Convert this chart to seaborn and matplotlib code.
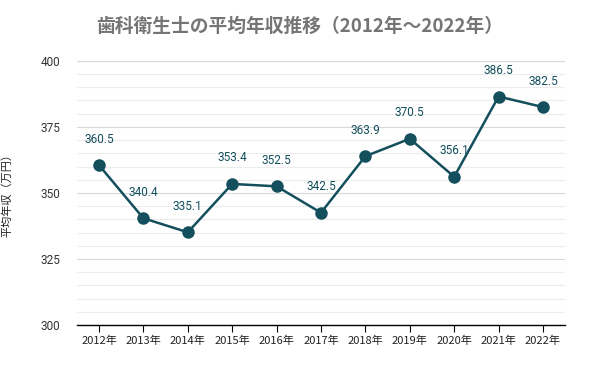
import numpy as np
import pandas as pd
import seaborn as sns
import matplotlib.pyplot as plt
from matplotlib.ticker import MultipleLocator

years = ["2012年", "2013年", "2014年", "2015年", "2016年", "2017年",
         "2018年", "2019年", "2020年", "2021年", "2022年"]
salary = [360.5, 340.4, 335.1, 353.4, 352.5, 342.5, 363.9, 370.5, 356.1, 386.5, 382.5]

sns.set_theme(style="white")
plt.rcParams['font.family'] = ['Noto Sans CJK JP', 'DejaVu Sans']

color = "#134f5c"
df = pd.DataFrame({"year": years, "salary": salary})

fig = plt.figure(figsize=(6, 3.71), dpi=100)
ax = fig.add_axes([0.128, 0.124, 0.814, 0.712])

sns.lineplot(data=df, x="year", y="salary", ax=ax, color=color, linewidth=1.8,
             marker="o", markersize=9, markeredgewidth=0, sort=False)

for i, v in enumerate(salary):
    ax.annotate(f"{v}", (i, v), xytext=(0, 14), textcoords="offset points",
                ha="center", va="bottom", fontsize=8.5, color=color,
                family=['Roboto', 'DejaVu Sans'])

ax.set_ylim(300, 400)
ax.set_xlim(-0.5, len(years) - 0.5)
ax.yaxis.set_major_locator(MultipleLocator(25))
ax.yaxis.set_minor_locator(MultipleLocator(5))
ax.grid(axis="y", which="major", color="#d9d9d9", linewidth=0.8)
ax.grid(axis="y", which="minor", color="#ececec", linewidth=0.8)
ax.set_axisbelow(True)

for s in ["top", "right", "left"]:
    ax.spines[s].set_visible(False)
ax.spines["bottom"].set_color("black")
ax.spines["bottom"].set_linewidth(1)

ax.tick_params(axis="x", which="major", bottom=True, length=5, width=0.8,
               color="black", labelsize=8, pad=3)
ax.tick_params(axis="y", which="both", left=False, labelsize=8.5, pad=6)
ax.tick_params(axis="y", which="minor", left=False)
for lab in ax.get_yticklabels():
    lab.set_family(['Roboto', 'DejaVu Sans'])
    lab.set_color("#333333")
for lab in ax.get_xticklabels():
    lab.set_color("#222222")

ax.set_xlabel("")
ax.set_ylabel("平均年収（万円）", fontsize=8, color="#222222", labelpad=20)

fig.suptitle("歯科衛生士の平均年収推移（2012年～2022年）", x=0.5, y=0.955,
             fontsize=13.5, fontweight="bold", color="#757575")

fig.savefig("out.png", dpi=100)
